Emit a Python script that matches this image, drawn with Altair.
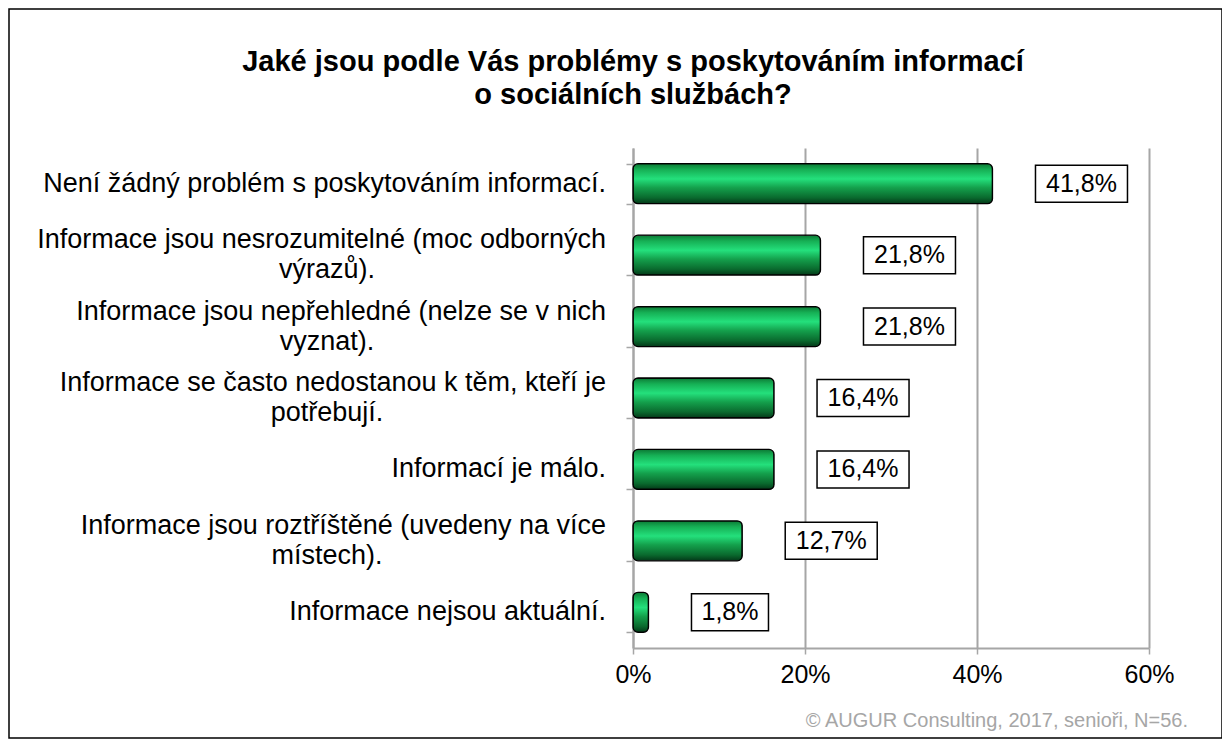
import altair as alt
import pandas as pd

# ---- data ----
categories = [
    "Není žádný problém s poskytováním informací.",
    "Informace jsou nesrozumitelné (moc odborných výrazů).",
    "Informace jsou nepřehledné (nelze se v nich vyznat).",
    "Informace se často nedostanou k těm, kteří je potřebují.",
    "Informací je málo.",
    "Informace jsou roztříštěné (uvedeny na více místech).",
    "Informace nejsou aktuální.",
]
label_line1 = [
    "Není žádný problém s poskytováním informací.",
    "Informace jsou nesrozumitelné (moc odborných",
    "Informace jsou nepřehledné (nelze se v nich",
    "Informace se často nedostanou k těm, kteří je",
    "Informací je málo.",
    "Informace jsou roztříštěné (uvedeny na více",
    "Informace nejsou aktuální.",
]
label_line2 = ["", "výrazů).", "vyznat).", "potřebují.", "", "místech).", ""]
values = [41.8, 21.8, 21.8, 16.4, 16.4, 12.7, 1.8]
value_labels = ["41,8%", "21,8%", "21,8%", "16,4%", "16,4%", "12,7%", "1,8%"]
x_ticks = [0, 20, 40, 60]

title_lines = ["Jaké jsou podle Vás problémy s poskytováním informací",
               "o sociálních službách?"]
source_note = "© AUGUR Consulting, 2017, senioři, N=56."

df = pd.DataFrame({"cat": categories, "line1": label_line1, "line2": label_line2,
                   "value": values, "label": value_labels})

FONT = "Liberation Sans"
GRAY = "#a6a6a6"
W, H = 516, 500
TOP = 140  # top padding

y_axis = alt.Y("cat:N", sort=categories, title=None,
               scale=alt.Scale(paddingInner=0.44, paddingOuter=0.22),
               axis=alt.Axis(labels=False, ticks=True, tickBand="extent", tickSize=7,
                             tickColor=GRAY, tickWidth=1.5, domainColor=GRAY,
                             domainWidth=2, grid=False))
y_plain = alt.Y("cat:N", sort=categories)

x_axis = alt.X("value:Q", title=None,
               scale=alt.Scale(domain=[0, 60], nice=False),
               axis=alt.Axis(values=x_ticks, labelExpr="datum.value + '%'",
                             labelFont=FONT, labelFontSize=25, labelColor="black",
                             labelFlush=False, labelPadding=8, tickSize=6,
                             tickColor=GRAY, tickWidth=1.5,
                             domainColor=GRAY, domainWidth=2, grid=True,
                             gridColor=GRAY, gridWidth=2))

gradient = alt.Gradient(
    gradient="linear", x1=0, x2=0, y1=0, y2=1,
    stops=[
        alt.GradientStop(offset=0, color="#0c7a35"),
        alt.GradientStop(offset=0.15, color="#16b055"),
        alt.GradientStop(offset=0.38, color="#24e07c"),
        alt.GradientStop(offset=0.6, color="#14a04c"),
        alt.GradientStop(offset=0.85, color="#0a6a2e"),
        alt.GradientStop(offset=1, color="#033818"),
    ],
)

base = alt.Chart(df)

frame = alt.Chart(pd.DataFrame({"a": [0]})).mark_rect(
    fillOpacity=0, stroke="black", strokeWidth=1.5
).encode(x=alt.value(-624), x2=alt.value(589), y=alt.value(-TOP + 1), y2=alt.value(590))

bars = base.mark_bar(fill=gradient, stroke="black", strokeWidth=1.3,
                     cornerRadius=5).encode(x=x_axis, y=y_axis)

wide = base.transform_filter("datum.value >= 10")
narrow = base.transform_filter("datum.value < 10")

box_wide = wide.mark_bar(fill="white", stroke="black", strokeWidth=1.5, size=37,
                         xOffset=43, x2Offset=135).encode(
    x="value:Q", x2="value:Q", y=y_plain)
box_narrow = narrow.mark_bar(fill="white", stroke="black", strokeWidth=1.5, size=37,
                             xOffset=43, x2Offset=120).encode(
    x="value:Q", x2="value:Q", y=y_plain)
txt_wide = wide.mark_text(align="center", baseline="middle", dx=89, font=FONT,
                          fontSize=25, color="black").encode(
    x="value:Q", y=y_plain, text="label:N")
txt_narrow = narrow.mark_text(align="center", baseline="middle", dx=81.5, font=FONT,
                              fontSize=25, color="black").encode(
    x="value:Q", y=y_plain, text="label:N")

single = base.transform_filter("datum.line2 == ''")
double = base.transform_filter("datum.line2 != ''")
cat_single = single.mark_text(align="right", baseline="middle", font=FONT,
                              fontSize=27, color="black").encode(
    x=alt.value(-27), y=y_plain, text="line1:N")
cat_double1 = double.mark_text(align="right", baseline="middle", dy=-15, font=FONT,
                               fontSize=27, color="black").encode(
    x=alt.value(-27), y=y_plain, text="line1:N")
cat_double2 = double.mark_text(align="center", baseline="middle", dy=15, font=FONT,
                               fontSize=27, color="black").encode(
    x=alt.value(-306), y=y_plain, text="line2:N")

title_df = pd.DataFrame({"t": title_lines, "row": [0, 1]})
title1 = alt.Chart(title_df).transform_filter("datum.row == 0").mark_text(
    align="center", baseline="middle", font=FONT, fontSize=29, fontWeight="bold",
    color="black").encode(x=alt.value(0), y=alt.value(62 - 8 - TOP), text="t:N")
title2 = alt.Chart(title_df).transform_filter("datum.row == 1").mark_text(
    align="center", baseline="middle", font=FONT, fontSize=29, fontWeight="bold",
    color="black").encode(x=alt.value(0), y=alt.value(95 - 8 - TOP), text="t:N")

note = alt.Chart(pd.DataFrame({"t": [source_note]})).mark_text(
    align="right", baseline="middle", font=FONT, fontSize=20, color=GRAY
).encode(x=alt.value(555), y=alt.value(721 - 8 - TOP), text="t:N")

chart = alt.layer(
    frame, bars, box_wide, box_narrow, txt_wide, txt_narrow,
    cat_single, cat_double1, cat_double2, title1, title2, note
).properties(
    width=W, height=H,
    autosize=alt.AutoSizeParams(type="none"),
    padding={"left": 625, "top": TOP, "right": 73, "bottom": 737 - TOP - H - 3},
).configure(font=FONT, background="white").configure_view(stroke=None)

chart.save("out.html", embed_options={"renderer": "svg", "actions": False})
